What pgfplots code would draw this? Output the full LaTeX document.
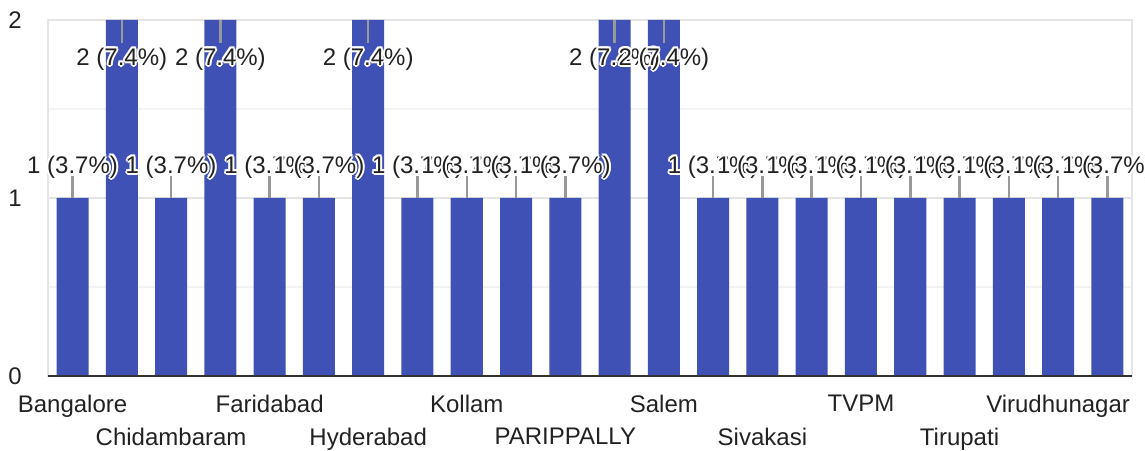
\documentclass[border=0pt]{standalone}
\usepackage{pgfplots}
\pgfplotsset{compat=1.18}
\usepackage{pgfplotstable}
\usepackage{fontspec}
\setmainfont{Liberation Sans}
\definecolor{barblue}{RGB}{63,81,181}
\definecolor{textdark}{RGB}{34,34,34}
\definecolor{gridmaj}{RGB}{228,228,228}
\definecolor{gridmin}{RGB}{243,243,243}
\definecolor{stemgray}{RGB}{153,153,153}
\definecolor{axisdark}{RGB}{51,51,51}
\newcommand\haloat[3]{\rlap{\kern#1\smash{\raisebox{#2}{\textcolor{white}{#3}}}}}
\newcommand\halo[1]{\leavevmode\haloat{2pt}{0pt}{#1}\haloat{-2pt}{0pt}{#1}\haloat{0pt}{2pt}{#1}\haloat{0pt}{-2pt}{#1}\haloat{1.4pt}{1.4pt}{#1}\haloat{-1.4pt}{1.4pt}{#1}\haloat{1.4pt}{-1.4pt}{#1}\haloat{-1.4pt}{-1.4pt}{#1}\textcolor{textdark}{#1}}
\pgfplotstableread{
x v sb sl ly lab
0 1 1 0.124 1.174 {1 (3.7\%)}
1 2 1.871 0.129 1.781 {2 (7.4\%)}
2 1 1 0.124 1.174 {1 (3.7\%)}
3 2 1.871 0.129 1.781 {2 (7.4\%)}
4 1 1 0.124 1.174 {1 (3.7\%)}
5 1 1 0.124 1.174 {1 (3.7\%)}
6 2 1.871 0.129 1.781 {2 (7.4\%)}
7 1 1 0.124 1.174 {1 (3.7\%)}
8 1 1 0.124 1.174 {1 (3.7\%)}
9 1 1 0.124 1.174 {1 (3.7\%)}
10 1 1 0.124 1.174 {1 (3.7\%)}
11 2 1.871 0.129 1.781 {2 (7.4\%)}
12 2 1.871 0.129 1.781 {2 (7.4\%)}
13 1 1 0.124 1.174 {1 (3.7\%)}
14 1 1 0.124 1.174 {1 (3.7\%)}
15 1 1 0.124 1.174 {1 (3.7\%)}
16 1 1 0.124 1.174 {1 (3.7\%)}
17 1 1 0.124 1.174 {1 (3.7\%)}
18 1 1 0.124 1.174 {1 (3.7\%)}
19 1 1 0.124 1.174 {1 (3.7\%)}
20 1 1 0.124 1.174 {1 (3.7\%)}
21 1 1 0.124 1.174 {1 (3.7\%)}
}\datatable
\begin{document}
\begin{tikzpicture}
\useasboundingbox (0,0) rectangle (1145pt,450pt);
\begin{axis}[
  at={(47.9pt,74pt)}, anchor=south west,
  scale only axis, width=1084.1pt, height=356pt,
  xmin=-0.5, xmax=21.5, ymin=0, ymax=2,
  clip=false,
  axis line style={draw=gridmaj, line width=1.5pt},
  ytick={0,1,2}, minor ytick={0.5,1.5},
  ymajorgrids, yminorgrids,
  major grid style={draw=gridmaj, line width=1.5pt},
  minor grid style={draw=gridmin, line width=1.5pt},
  major tick length=0pt, minor tick length=0pt,
  xtick={0,4,8,12,16,20},
  xticklabels={Bangalore,Faridabad,Kollam,Salem,TVPM,Virudhunagar},
  extra x ticks={2,6,10,14,18},
  extra x tick labels={Chidambaram,Hyderabad,PARIPPALLY,Sivakasi,Tirupati},
  extra x tick style={xticklabel style={yshift=-33pt}},
  xticklabel style={anchor=north, inner sep=0pt, yshift=-19pt},
  yticklabel style={anchor=east, inner sep=0pt, xshift=-26pt},
  ticklabel style={font=\fontsize{24}{28}\selectfont, text=textdark},
  /pgf/number format/assume math mode=true,
]
\addplot[ybar, bar width=0.65, fill=barblue, draw=none] table[x=x, y=v] {\datatable};
\addplot[draw=none, mark=none,
  error bars/.cd, y dir=plus, y explicit, error mark=none,
  error bar style={draw=stemgray, line width=2.5pt}]
  table[x=x, y=sb, y error=sl] {\datatable};
\addplot[color=axisdark, line width=2.5pt, mark=none] coordinates {(-0.5,0) (21.5,0)};
\addplot[draw=none, mark=none, point meta=explicit symbolic,
  nodes near coords={\halo{\pgfplotspointmeta}},
  every node near coord/.append style={anchor=center, inner sep=0pt, font=\fontsize{24}{28}\selectfont}]
  table[x=x, y=ly, meta=lab] {\datatable};
\end{axis}
\end{tikzpicture}
\end{document}
